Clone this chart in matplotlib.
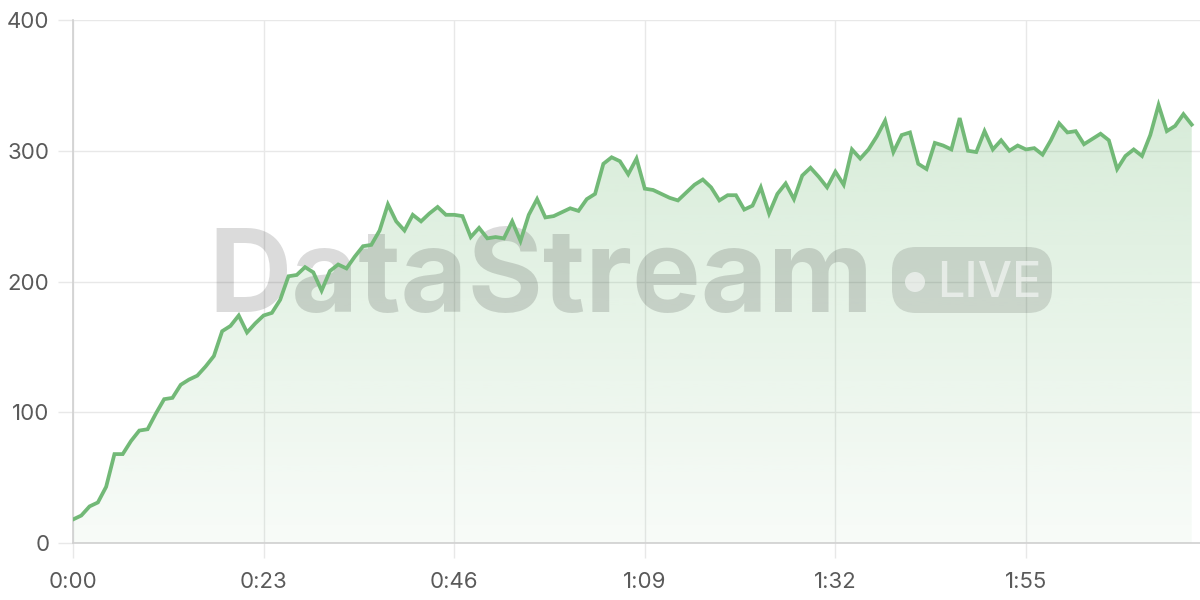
import numpy as np
import matplotlib.pyplot as plt
from matplotlib.patches import FancyBboxPatch, Circle
from matplotlib.transforms import IdentityTransform

seconds = list(range(136))
values = [18, 21, 28, 31, 43, 68, 68, 78, 86, 87,
          99, 110, 111, 121, 125, 128, 135, 143, 162, 166,
          174, 161, 168, 174, 176, 186, 204, 205, 211, 207,
          193, 208, 213, 210, 219, 227, 228, 239, 259, 246,
          239, 251, 246, 252, 257, 251, 251, 250, 234, 241,
          233, 234, 233, 246, 231, 251, 263, 249, 250, 253,
          256, 254, 263, 267, 290, 295, 292, 282, 294, 271,
          270, 267, 264, 262, 268, 274, 278, 272, 262, 266,
          266, 255, 258, 272, 252, 267, 275, 263, 281, 287,
          280, 272, 284, 274, 301, 294, 301, 311, 323, 299,
          312, 314, 290, 286, 306, 304, 301, 325, 300, 299,
          315, 301, 308, 300, 304, 301, 302, 297, 308, 321,
          314, 315, 305, 309, 313, 308, 286, 296, 301, 296,
          312, 335, 315, 319, 328, 320]
x_ticks = [0, 23, 46, 69, 92, 115]
y_ticks = [0, 100, 200, 300, 400]

green = '#72b977'
grid_col = '#e8e8e8'
text_col = '#5a5a5a'

plt.rcParams['font.family'] = ['Inter', 'DejaVu Sans']

fig = plt.figure(figsize=(12, 6), dpi=100)
ax = fig.add_axes([73 / 1200, 57 / 600, 1127 / 1200, 523 / 600])

# gradient under the line
fill = ax.fill_between(seconds, values, 0, color='none', lw=0)
grad = np.zeros((256, 1, 4))
grad[:, 0, 0] = 111 / 255
grad[:, 0, 1] = 186 / 255
grad[:, 0, 2] = 116 / 255
grad[:, 0, 3] = np.linspace(0.05, 0.32, 256)
im = ax.imshow(grad, extent=[0, max(seconds), 0, 400], aspect='auto',
               origin='lower', zorder=1)
im.set_clip_path(fill.get_paths()[0], transform=ax.transData)

ax.plot(seconds, values, color=green, lw=2.7, zorder=3, solid_joinstyle='miter')

# watermark
ax.text(208, 600 - 312, 'DataStream', transform=IdentityTransform(),
        fontsize=83, fontweight='bold', color='black', alpha=0.14,
        ha='left', va='baseline', zorder=2)
pill = FancyBboxPatch((892, 600 - 313), 160, 66,
                      boxstyle='round,pad=0,rounding_size=24',
                      transform=IdentityTransform(), facecolor='black',
                      edgecolor='none', alpha=0.12, zorder=2)
ax.add_artist(pill)
ax.add_artist(Circle((915, 600 - 282), 10, transform=IdentityTransform(),
                     facecolor='white', edgecolor='none', alpha=0.55, zorder=2))
ax.text(937, 600 - 297, 'LIVE', transform=IdentityTransform(),
        fontsize=35, fontweight='medium', color='white', alpha=0.55,
        ha='left', va='baseline', zorder=2)

ax.set_xlim(0, 136)
ax.set_ylim(0, 400)
ax.set_xticks(x_ticks)
ax.set_xticklabels([f'{s // 60}:{s % 60:02d}' for s in x_ticks])
ax.set_yticks(y_ticks)

ax.grid(True, color=grid_col, lw=1)
ax.set_axisbelow(True)
ax.tick_params(axis='both', length=11, width=1, color=grid_col,
               labelsize=16, labelcolor=text_col, pad=6)
ax.tick_params(axis='x', pad=10)
for side in ['top', 'right']:
    ax.spines[side].set_visible(False)
for side in ['left', 'bottom']:
    ax.spines[side].set_color('#d0d0d0')
    ax.spines[side].set_linewidth(1.2)

fig.savefig('out.png', dpi=100)
